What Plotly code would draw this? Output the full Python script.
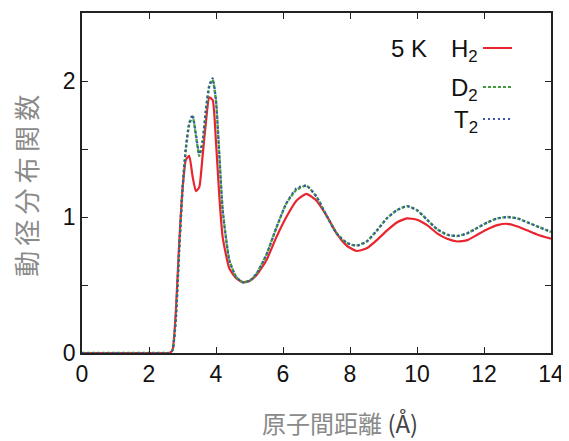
import plotly.graph_objects as go

r = [0.0, 0.5, 1.0, 1.5, 2.0, 2.5, 2.6, 2.7, 2.8, 2.9, 3.0, 3.1, 3.2, 3.3, 3.4, 3.5, 3.6, 3.7, 3.8,
     3.9, 4.0, 4.1, 4.2, 4.4, 4.6, 4.8, 5.0, 5.2, 5.5, 5.8, 6.1, 6.4, 6.7, 7.0, 7.3, 7.6,
     7.9, 8.2, 8.5, 8.8, 9.1, 9.4, 9.7, 10.0, 10.3, 10.6, 10.9, 11.2, 11.5, 11.8, 12.1,
     12.4, 12.7, 13.0, 13.3, 13.6, 14.0]

g_H2 = [0, 0, 0, 0, 0, 0, 0, 0.02, 0.3, 0.8, 1.2, 1.42, 1.45, 1.3, 1.19, 1.22, 1.45, 1.7, 1.88,
        1.86, 1.55, 1.15, 0.85, 0.62, 0.55, 0.52, 0.53, 0.57, 0.68, 0.85, 1.0, 1.12, 1.17, 1.12,
        1.01, 0.88, 0.79, 0.75, 0.77, 0.83, 0.9, 0.96, 0.99, 0.98, 0.94, 0.88, 0.84, 0.82, 0.83,
        0.87, 0.91, 0.94, 0.95, 0.93, 0.9, 0.87, 0.84]

g_D2 = [0, 0, 0, 0, 0, 0, 0, 0.02, 0.25, 0.75, 1.2, 1.5, 1.68, 1.74, 1.6, 1.45, 1.55, 1.78, 1.96,
        2.01, 1.85, 1.45, 1.05, 0.68, 0.56, 0.52, 0.53, 0.58, 0.72, 0.92, 1.1, 1.2, 1.23, 1.15,
        1.01, 0.88, 0.81, 0.79, 0.82, 0.9, 0.99, 1.05, 1.08, 1.05, 0.98, 0.91, 0.87, 0.86, 0.88,
        0.92, 0.96, 0.99, 1.0, 0.99, 0.96, 0.93, 0.89]

g_T2 = [0, 0, 0, 0, 0, 0, 0, 0.02, 0.25, 0.76, 1.21, 1.51, 1.69, 1.75, 1.61, 1.46, 1.56, 1.79, 1.97,
        2.02, 1.86, 1.46, 1.05, 0.68, 0.56, 0.52, 0.53, 0.58, 0.72, 0.92, 1.1, 1.21, 1.23, 1.15,
        1.01, 0.88, 0.81, 0.79, 0.82, 0.9, 0.99, 1.05, 1.08, 1.05, 0.98, 0.91, 0.87, 0.86, 0.88,
        0.92, 0.96, 0.99, 1.0, 0.99, 0.96, 0.93, 0.89]

x_ticks = [0, 2, 4, 6, 8, 10, 12, 14]
y_ticks = [0, 1, 2]

series_names = ["H<sub>2</sub>", "D<sub>2</sub>", "T<sub>2</sub>"]
temp_label = "5 K"
x_title = "<span style='color:#8a8a8a'>原子間距離</span> (Å)"
y_title = "動\u2009径\u2009分\u2009布\u2009関\u2009数"

RED = "#e8252e"
GREEN = "#3f9e3a"
BLUE = "#3a55a8"

fig = go.Figure()
fig.add_trace(go.Scatter(x=r, y=g_H2, mode="lines", line=dict(color=RED, width=2.2, shape="spline", smoothing=0.5)))
fig.add_trace(go.Scatter(x=r, y=g_D2, mode="lines", line=dict(color=GREEN, width=2.4, dash="3px,2px", shape="spline", smoothing=0.5)))
fig.add_trace(go.Scatter(x=r, y=g_T2, mode="lines", line=dict(color=BLUE, width=2.2, dash="2px,3px", shape="spline", smoothing=0.5)))

FAM = "Liberation Sans, Arial, sans-serif"
CJK = "Noto Sans CJK JP, Liberation Sans"
font = dict(family=FAM, size=23, color="#111")

axis_common = dict(showline=True, linecolor="#222", linewidth=1.5, mirror="ticks", ticks="inside",
                   ticklen=6, tickcolor="#222", showgrid=False, zeroline=False, tickfont=font,
                   automargin=False)

# page body has an 8px margin, so the figure is sized/offset to put the plot area at 82..551 x 13..353
fig.update_layout(
    width=561, height=433, showlegend=False,
    margin=dict(l=74, r=18, t=5, b=88),
    plot_bgcolor="white", paper_bgcolor="white",
    xaxis=dict(range=[0, 14], tickvals=x_ticks, **axis_common),
    yaxis=dict(range=[0, 2.5], tickvals=y_ticks, **axis_common,
               minor=dict(dtick=0.5, tick0=0, ticks="inside", ticklen=6, tickcolor="#222", showgrid=False)),
)

fig.add_annotation(xref="paper", yref="paper", x=0.55, y=-0.203, text=x_title, showarrow=False,
                   xanchor="center", yanchor="middle", font=dict(family=CJK, size=24, color="#444"))
fig.add_annotation(xref="paper", yref="paper", x=-0.122, y=0.491, text=y_title, showarrow=False,
                   textangle=-90, xanchor="center", yanchor="middle", font=dict(family=CJK, size=26, color="#8a8a8a"))

# legend drawn at upper right: label text on the left, line sample on the right
line_y = [0.897, 0.782, 0.688]
colors = [RED, GREEN, BLUE]
dashes = ["solid", "3px,2px", "2px,3px"]
for name, yy, c, d in zip(series_names, line_y, colors, dashes):
    fig.add_annotation(xref="paper", yref="paper", x=0.848, y=yy - 0.006, text=name, showarrow=False,
                       xanchor="right", yanchor="middle", font=dict(family=FAM, size=24, color="#111"))
    fig.add_shape(type="line", xref="paper", yref="paper", x0=0.855, x1=0.917, y0=yy, y1=yy,
                  line=dict(color=c, width=2, dash=d))
fig.add_annotation(xref="paper", yref="paper", x=0.74, y=line_y[0], text=temp_label, showarrow=False,
                   xanchor="right", yanchor="middle", font=dict(family=FAM, size=24, color="#111"))

fig.write_html("out.html")
